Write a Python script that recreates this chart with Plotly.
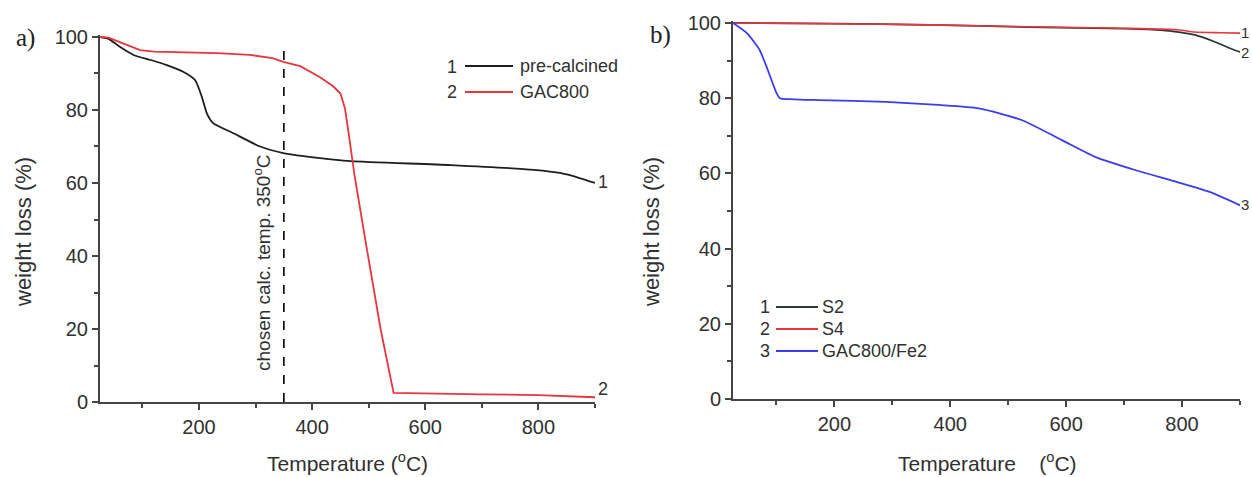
import plotly.graph_objects as go

W, H = 1252, 477

# ---------------- data ----------------
# panel a
pre_T = [25, 40, 60, 85, 115, 143, 172, 193, 205, 214, 225, 260, 308, 349, 414, 468, 645, 792, 840, 870, 900]
pre_W = [100, 99.5, 97.3, 95.0, 93.7, 92.3, 90.5, 88.2, 83.6, 79.0, 76.4, 73.7, 70.0, 68.2, 66.8, 66.0, 64.9, 63.6, 62.7, 61.5, 60.0]

gac_T = [25, 40, 60, 80, 96, 120, 143, 232, 290, 330, 349, 379, 414, 437, 450, 458, 466, 475, 494, 521, 544, 600, 700, 800, 900]
gac_W = [100, 99.8, 98.6, 97.3, 96.4, 96.0, 95.9, 95.6, 95.1, 94.2, 93.2, 92.0, 89.0, 86.5, 84.5, 80.5, 72.0, 62.0, 44.4, 20.0, 2.5, 2.3, 2.1, 1.9, 1.3]

calc_temp = 350

# panel b
s2_T = [25, 200, 363, 535, 700, 763, 822, 856, 890, 900]
s2_W = [100, 99.8, 99.5, 98.9, 98.5, 98.1, 96.8, 95.0, 92.8, 92.3]

s4_T = [25, 200, 363, 535, 700, 792, 822, 866, 900]
s4_W = [100, 99.8, 99.5, 99.0, 98.6, 98.2, 97.6, 97.4, 97.3]

fe_T = [25, 49, 71, 85, 100, 106, 130, 174, 289, 380, 449, 523, 592, 650, 719, 792, 849, 900]
fe_W = [100, 97.3, 92.8, 87.5, 81.4, 80.0, 79.7, 79.5, 79.0, 78.2, 77.3, 74.2, 68.9, 64.4, 60.9, 57.7, 55.0, 51.5]

x_ticks = [200, 400, 600, 800]
y_ticks = [0, 20, 40, 60, 80, 100]

# ---------------- styles ----------------
BLACK = "#1e1e1e"
RED = "#e8353f"
BLUE = "#3b3bef"
DARK = "#2b3838"
AXC = "#444444"
FONT = "Liberation Sans, Arial, sans-serif"
TXT = "#303030"


def px(x):
    return x / W


def py(y):
    return 1 - y / H


fig = go.Figure()

fig.add_trace(go.Scatter(x=pre_T, y=pre_W, mode="lines", line=dict(color=BLACK, width=1.8, shape="spline", smoothing=0.6),
                         xaxis="x", yaxis="y", showlegend=False))
fig.add_trace(go.Scatter(x=gac_T, y=gac_W, mode="lines", line=dict(color=RED, width=1.8),
                         xaxis="x", yaxis="y", showlegend=False))
fig.add_trace(go.Scatter(x=s2_T, y=s2_W, mode="lines", line=dict(color=DARK, width=1.8, shape="spline", smoothing=0.6),
                         xaxis="x2", yaxis="y2", showlegend=False))
fig.add_trace(go.Scatter(x=s4_T, y=s4_W, mode="lines", line=dict(color=RED, width=1.6, shape="spline", smoothing=0.6),
                         xaxis="x2", yaxis="y2", showlegend=False))
fig.add_trace(go.Scatter(x=fe_T, y=fe_W, mode="lines", line=dict(color=BLUE, width=1.8, shape="spline", smoothing=0.6),
                         xaxis="x2", yaxis="y2", showlegend=False))

axis_common = dict(showline=True, linecolor=AXC, linewidth=2, showgrid=False, zeroline=False,
                   ticks="outside", ticklen=6, tickwidth=1.5, tickcolor=AXC,
                   tickfont=dict(family=FONT, size=20, color=TXT))

fig.update_layout(
    width=W, height=H, autosize=False,
    margin=dict(l=0, r=0, t=0, b=0, autoexpand=False),
    paper_bgcolor="white", plot_bgcolor="white",
    xaxis=dict(domain=[px(100), px(595)], range=[25, 900], tickvals=x_ticks,
               minor=dict(dtick=100, tick0=0, ticks="outside", ticklen=4, tickwidth=1.5, tickcolor=AXC),
               anchor="y", **axis_common),
    yaxis=dict(domain=[py(402), py(34.8)], range=[0, 100.6], tickvals=y_ticks,
               minor=dict(dtick=10, tick0=0, ticks="outside", ticklen=4, tickwidth=1.5, tickcolor=AXC),
               anchor="x", **axis_common),
    xaxis2=dict(domain=[px(733), px(1240)], range=[25, 900], tickvals=x_ticks,
                minor=dict(dtick=100, tick0=0, ticks="outside", ticklen=4, tickwidth=1.5, tickcolor=AXC),
                anchor="y2", **axis_common),
    yaxis2=dict(domain=[py(399), py(20.7)], range=[0, 100.6], tickvals=y_ticks,
                minor=dict(dtick=10, tick0=0, ticks="outside", ticklen=4, tickwidth=1.5, tickcolor=AXC),
                anchor="x2", **axis_common),
)

# dashed line at chosen calcination temperature
fig.add_shape(type="line", xref="x", yref="y", x0=calc_temp, x1=calc_temp, y0=0, y1=97,
              line=dict(color="black", width=1.6, dash="dash"))

ann = []


def text(x, y, s, size=18, xanchor="center", yanchor="middle", angle=0, family=FONT, color=TXT):
    ann.append(dict(x=px(x), y=py(y), xref="paper", yref="paper", text=s, showarrow=False,
                    xanchor=xanchor, yanchor=yanchor, textangle=angle,
                    font=dict(family=family, size=size, color=color)))


def legline(x0, x1, y, color):
    fig.add_shape(type="line", xref="paper", yref="paper", x0=px(x0), x1=px(x1), y0=py(y), y1=py(y),
                  line=dict(color=color, width=2))


# panel labels
text(25, 38, "a)", size=25, family="Liberation Serif, Times New Roman, serif", color="#222")
text(660, 35, "b)", size=25, family="Liberation Serif, Times New Roman, serif", color="#222")

# axis titles
text(23, 232, "weight loss (%)", size=22, angle=-90)
text(651, 232, "weight loss (%)", size=22, angle=-90)
text(347, 462, "Temperature (<sup>o</sup>C)", size=21)
text(987, 462, "Temperature\u00a0\u00a0\u00a0 (<sup>o</sup>C)", size=21)

# annotation for dashed line
text(262, 263, "chosen calc. temp. 350<sup>o</sup>C", size=19, angle=-90)

# legend panel a
text(452, 67, "1", size=18)
legline(465, 513, 66, BLACK)
text(518, 66, "pre-calcined", size=18, xanchor="left")
text(452, 92, "2", size=18)
legline(465, 513, 92, RED)
text(518, 92, "GAC800", size=18, xanchor="left")

# curve end labels panel a
text(603, 182, "1", size=18)
text(603, 389, "2", size=18)

# legend panel b
for yy, num, lab, col in [(307, "1", "S2", DARK), (329, "2", "S4", RED), (351, "3", "GAC800/Fe2", BLUE)]:
    text(765, yy, num, size=18)
    legline(776, 818, yy, col)
    text(820, yy, lab, size=18, xanchor="left")

# curve end labels panel b
text(1245, 33, "1", size=15)
text(1245, 52, "2", size=15)
text(1245, 204, "3", size=15)

fig.update_layout(annotations=ann)

fig.write_html(
    "out.html",
    config={"responsive": False, "displayModeBar": False},
    post_script="document.body.style.margin='0px';document.body.style.padding='0px';document.body.style.overflow='hidden';",
)
